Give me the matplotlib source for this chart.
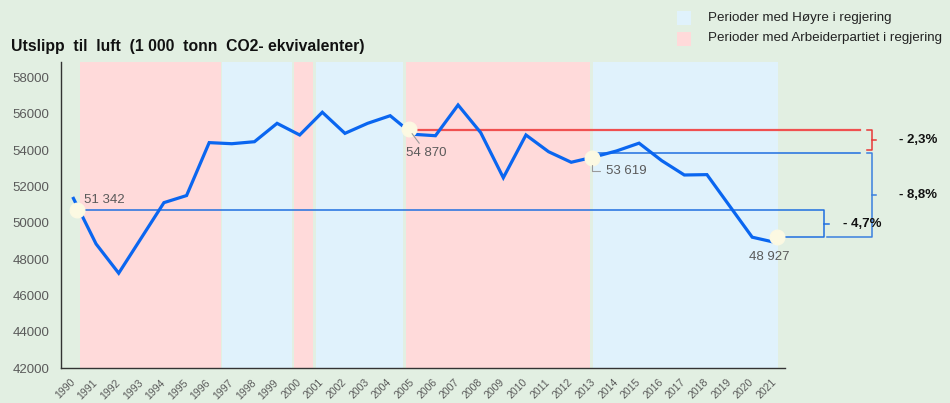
import matplotlib
matplotlib.use('Agg')
import matplotlib.pyplot as plt
from matplotlib.patches import Rectangle

plt.rcParams['font.family'] = ['Liberation Sans', 'DejaVu Sans']

# ---------------- data ----------------
years = list(range(1990, 2022))
emissions = [51342, 48840, 47230, 49170, 51110, 51500, 54410, 54350, 54460, 55470,
             54830, 56080, 54920, 55470, 55890, 54870, 54790, 56480, 54960, 52480,
             54830, 53910, 53330, 53619, 53950, 54380, 53420, 52630, 52650, 50930,
             49210, 48927]

# government periods (as drawn in the picture)
ap_periods = [(1990.29, 1996.51), (1999.74, 2000.58), (2004.69, 2012.81)]
h_periods = [(1996.56, 1999.65), (2000.71, 2004.55), (2012.95, 2021.16)]

# highlighted points (as drawn)
hl_labels = ['51 342', '54 870', '53 619', '48 927']
hl_x = [1990.17, 2004.82, 2012.93, 2021.10]
hl_y = [50680, 55150, 53580, 49240]

# reference levels of the comparison lines (as drawn)
ref_1990 = 50680
ref_2005 = 55100
ref_2013 = 53820
ref_2021 = 49240
change_labels = ['- 2,3%', '- 8,8%', '- 4,7%']

legend_labels = ['Perioder med Høyre i regjering', 'Perioder med Arbeiderpartiet i regjering']
title = 'Utslipp  til  luft  (1 000  tonn  CO2- ekvivalenter)'

# ---------------- style ----------------
BG = '#E2EFE2'
PINK = '#FFDADA'
LBLUE = '#E0F2FC'
LINE = '#0A66F0'
RED = '#F05050'
REFBLUE = '#1F6FE0'
BRBLUE = '#3A7FDF'
DOT = '#FCF9E2'
GRAY = '#5A5A5A'

W, H = 950, 403
fig = plt.figure(figsize=(W / 100, H / 100), dpi=100)
fig.patch.set_facecolor(BG)
ax = fig.add_axes([61 / W, 1 - 368.3 / H, (785 - 61) / W, (368.3 - 61.7) / H])
ax.set_facecolor(BG)

for a, b in ap_periods:
    ax.axvspan(a, b, color=PINK, lw=0, zorder=0)
for a, b in h_periods:
    ax.axvspan(a, b, color=LBLUE, lw=0, zorder=0)

ax.set_xlim(1989.45, 2021.45)
ax.set_ylim(42000, 58860)

# reference lines and brackets
ax.plot([hl_x[0], 2023.18, 2023.18, hl_x[3]], [ref_1990, ref_1990, ref_2021, ref_2021],
        color=REFBLUE, lw=1.1, clip_on=False, zorder=2)
ax.plot([2023.18, 2023.40], [(ref_1990 + ref_2021) / 2] * 2, color=REFBLUE, lw=1.1,
        clip_on=False, zorder=2)

ax.plot([hl_x[1], 2024.75], [ref_2005, ref_2005], color=RED, lw=1.6, clip_on=False, zorder=2)
red_bot = 53990
ax.plot([2025.06, 2025.28, 2025.28, 2025.06], [ref_2005, ref_2005, red_bot, red_bot],
        color='#E83838', lw=1.1, clip_on=False, zorder=2)
ax.plot([2025.28, 2025.47], [(ref_2005 + red_bot) / 2] * 2, color='#E83838', lw=1.1,
        clip_on=False, zorder=2)

ax.plot([hl_x[2], 2024.75], [ref_2013, ref_2013], color=REFBLUE, lw=1.1, clip_on=False, zorder=2)
ax.plot([2025.06, 2025.28, 2025.28, 2023.32], [ref_2013, ref_2013, ref_2021, ref_2021],
        color=BRBLUE, lw=1.1, clip_on=False, zorder=2)
ax.plot([2025.28, 2025.47], [(ref_2013 + ref_2021) / 2] * 2, color=BRBLUE, lw=1.1,
        clip_on=False, zorder=2)

ax.text(2026.5, (ref_2005 + red_bot) / 2, change_labels[0], fontsize=9.5, fontweight='bold',
        color='#111111', va='center', ha='left')
ax.text(2026.5, (ref_2013 + ref_2021) / 2, change_labels[1], fontsize=9.5, fontweight='bold',
        color='#111111', va='center', ha='left')
ax.text(2024.0, (ref_1990 + ref_2021) / 2, change_labels[2], fontsize=9.5, fontweight='bold',
        color='#111111', va='center', ha='left')

# main line
ax.plot(years, emissions, color=LINE, lw=2.3, zorder=3, solid_joinstyle='miter')

# highlight dots
ax.plot(hl_x, hl_y, 'o', ms=10.5, color=DOT, mec=DOT, zorder=5, clip_on=False)

ax.annotate(hl_labels[0], (hl_x[0], hl_y[0]), xytext=(4.8, 7.2), textcoords='offset points',
            fontsize=9.5, color=GRAY, ha='left', va='center', zorder=6)
ax.annotate(hl_labels[1], (hl_x[1], hl_y[1]), xytext=(-1.7, -17.3), textcoords='offset points',
            fontsize=9.5, color=GRAY, ha='left', va='center', zorder=6,
            arrowprops=dict(arrowstyle='-', color='#9A9A9A', lw=0.8, shrinkA=1, shrinkB=4))
ax.annotate(hl_labels[2], (hl_x[2], hl_y[2]), xytext=(9.6, -9.6), textcoords='offset points',
            fontsize=9.5, color=GRAY, ha='left', va='center', zorder=6,
            arrowprops=dict(arrowstyle='-', color='#9A9A9A', lw=0.8, shrinkA=2, shrinkB=5,
                            relpos=(0, 0.5),
                            connectionstyle='angle,angleA=0,angleB=90,rad=0'))
ax.annotate(hl_labels[3], (hl_x[3], hl_y[3]), xytext=(-5.5, -14.4), textcoords='offset points',
            fontsize=9.5, color=GRAY, ha='center', va='center', zorder=6)

# axes styling
for s in ['top', 'right']:
    ax.spines[s].set_visible(False)
for s in ['left', 'bottom']:
    ax.spines[s].set_color('#333333')
    ax.spines[s].set_linewidth(1.0)
ax.set_yticks(range(42000, 58001, 2000))
ax.set_yticklabels([str(v) for v in range(42000, 58001, 2000)])
ax.set_xticks(years)
ax.set_xticklabels([str(y) for y in years], rotation=45, ha='right', va='center',
                   rotation_mode='anchor')
ax.tick_params(axis='y', length=0, pad=8.4, labelsize=9.5, labelcolor=GRAY)
ax.tick_params(axis='x', length=0, pad=9, labelsize=7.6, labelcolor=GRAY)

# title
fig.text(11 / W, 1 - 46.7 / H, title, fontsize=11.3, fontweight='bold', color='#111111',
         ha='left', va='center')

# legend
fig.patches.append(Rectangle((677 / W, 1 - 25 / H), 14 / W, 14 / H, transform=fig.transFigure,
                             facecolor=LBLUE, edgecolor='none', figure=fig))
fig.patches.append(Rectangle((677 / W, 1 - 45.5 / H), 14 / W, 14 / H, transform=fig.transFigure,
                             facecolor=PINK, edgecolor='none', figure=fig))
fig.text(707.7 / W, 1 - 18.3 / H, legend_labels[0], fontsize=9.6, color='#222222',
         ha='left', va='center')
fig.text(707.7 / W, 1 - 38.5 / H, legend_labels[1], fontsize=9.6, color='#222222',
         ha='left', va='center')

fig.savefig('out.png', dpi=100, facecolor=BG)
